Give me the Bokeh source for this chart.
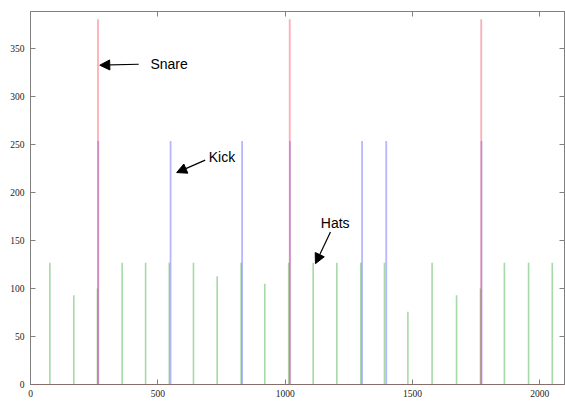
from bokeh.plotting import figure
from bokeh.models import Range1d, LinearAxis, FixedTicker, Span, Arrow, NormalHead, Label
from bokeh.embed import file_html
from bokeh.resources import INLINE

# Data
hats_x = [76, 170, 263, 360, 452, 545, 640, 733, 827, 920, 1014, 1110, 1203, 1297,
          1390, 1482, 1577, 1673, 1767, 1861, 1956, 2049]
hats_v = [127, 93, 100, 127, 127, 127, 127, 113, 127, 105, 127, 127, 127, 127,
          127, 76, 127, 93, 100, 127, 127, 127]
kick_x = [266, 550, 831, 1019, 1302, 1397, 1771]
kick_v = [254, 254, 254, 254, 254, 254, 254]
snare_x = [265, 1018, 1770]
snare_v = [381, 381, 381]
x_ticks = [0, 500, 1000, 1500, 2000]
y_ticks = [0, 50, 100, 150, 200, 250, 300, 350]

# annotations: (label, text_x, text_y, tail_x, tail_y, head_x, head_y)
notes = [
    ("Snare", 471, 334, 425, 334, 272, 333),
    ("Kick", 700, 237, 686, 234, 574, 221),
    ("Hats", 1140, 168, 1178, 159, 1119, 126),
]

p = figure(width=565, height=405, output_backend="svg", toolbar_location=None,
           x_range=Range1d(0, 2097), y_range=Range1d(0, 389),
           min_border_left=30, min_border_right=1, min_border_top=11, min_border_bottom=21)
p.grid.visible = False
p.outline_line_color = "#808080"
p.outline_line_width = 1
p.background_fill_color = "white"
p.border_fill_color = "white"

p.segment(x0=hats_x, y0=[0] * len(hats_x), x1=hats_x, y1=hats_v,
          line_color="#3cab3c", line_alpha=0.45, line_width=1.6)
p.segment(x0=kick_x, y0=[0] * len(kick_x), x1=kick_x, y1=kick_v,
          line_color="#6060ff", line_alpha=0.45, line_width=1.8)
p.segment(x0=snare_x, y0=[0] * len(snare_x), x1=snare_x, y1=snare_v,
          line_color="#ff4a5a", line_alpha=0.45, line_width=1.8)

p.add_layout(Span(location=0, dimension="width", line_color="#8b5a55", line_width=1.2))

for ax in p.xaxis:
    ax.ticker = FixedTicker(ticks=x_ticks)
for ax in p.yaxis:
    ax.ticker = FixedTicker(ticks=y_ticks)

top = LinearAxis(ticker=FixedTicker(ticks=x_ticks),
                 major_label_overrides={t: "" for t in x_ticks})
right = LinearAxis(ticker=FixedTicker(ticks=y_ticks),
                   major_label_overrides={t: "" for t in y_ticks})
p.add_layout(top, "above")
p.add_layout(right, "right")

for ax in list(p.xaxis) + list(p.yaxis):
    ax.axis_line_color = "#808080"
    ax.major_tick_line_color = "#808080"
    ax.major_tick_in = 5
    ax.major_tick_out = 0
    ax.minor_tick_line_color = None
    ax.major_label_text_font = "Liberation Serif"
    ax.major_label_text_font_size = "9.5px"
    ax.major_label_text_color = "#222222"

p.xaxis[0].major_label_standoff = 8
p.yaxis[0].major_label_standoff = 6
for ax in (top, right):
    ax.major_label_standoff = 0

for name, tx, ty, ax0, ay0, ax1, ay1 in notes:
    p.add_layout(Arrow(x_start=ax0, y_start=ay0, x_end=ax1, y_end=ay1,
                       line_color="black", line_width=1.2,
                       end=NormalHead(size=10, fill_color="black", line_color="black")))
    p.add_layout(Label(x=tx, y=ty, text=name, text_font="Liberation Sans",
                       text_font_size="14px", text_baseline="middle", text_color="black"))

open("out.html", "w").write(file_html(p, INLINE))
